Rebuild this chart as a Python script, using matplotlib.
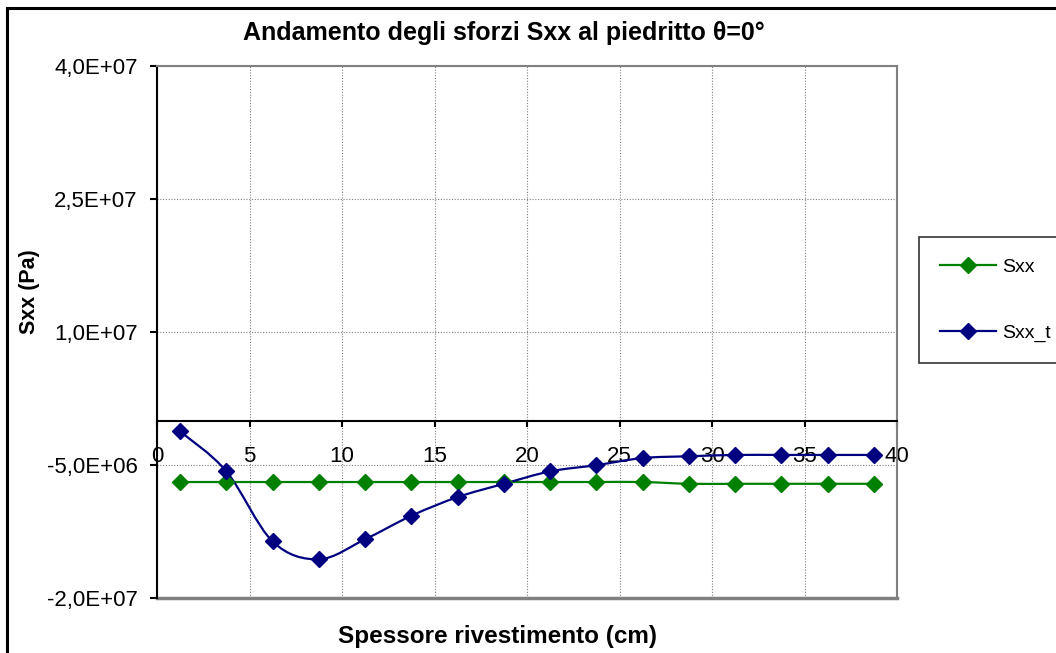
import matplotlib
matplotlib.use("Agg")
import matplotlib.pyplot as plt
from matplotlib.path import Path
from matplotlib.patches import PathPatch, Rectangle
from matplotlib.lines import Line2D
import numpy as np

plt.rcParams["font.family"] = ["Liberation Sans", "DejaVu Sans"]

# spessore (cm) e sforzi (Pa)
spessore = [1.25, 3.75, 6.25, 8.75, 11.25, 13.75, 16.25, 18.75,
            21.25, 23.75, 26.25, 28.75, 31.25, 33.75, 36.25, 38.75]
sxx = [-6.9e6, -6.9e6, -6.9e6, -6.9e6, -6.9e6, -6.9e6, -6.9e6, -6.9e6,
       -6.9e6, -6.9e6, -6.9e6, -7.1e6, -7.1e6, -7.1e6, -7.1e6, -7.1e6]
sxx_t = [-1.2e6, -5.7e6, -13.6e6, -15.6e6, -13.35e6, -10.7e6, -8.6e6, -7.1e6,
         -5.7e6, -5.0e6, -4.2e6, -4.0e6, -3.85e6, -3.85e6, -3.85e6, -3.85e6]

yticks = [-2.0e7, -5.0e6, 1.0e7, 2.5e7, 4.0e7]
xticks = [0, 5, 10, 15, 20, 25, 30, 35, 40]

GREEN = "#008000"
NAVY = "#000080"
MS = 8


def smooth_path(x, y):
    '''curva liscia tipo Excel: bezier cubiche tra punti consecutivi'''
    p = np.column_stack([x, y]).astype(float)
    n = len(p)
    verts = [p[0]]
    codes = [Path.MOVETO]
    for i in range(n - 1):
        p0 = p[i - 1] if i > 0 else p[i]
        p3 = p[i + 2] if i + 2 < n else p[i + 1]
        c1 = p[i] + (p[i + 1] - p0) / 6.0
        c2 = p[i + 1] - (p3 - p[i]) / 6.0
        verts += [c1, c2, p[i + 1]]
        codes += [Path.CURVE4] * 3
    return Path(verts, codes)


fig = plt.figure(figsize=(10.56, 6.53), dpi=100)
ax = fig.add_axes([157 / 1056, 1 - 598.3 / 653, 740 / 1056, 532.6 / 653])

for yy, col in [(sxx, GREEN), (sxx_t, NAVY)]:
    ax.add_patch(PathPatch(smooth_path(spessore, yy), fill=False,
                           edgecolor=col, lw=1.6, zorder=3))
    ax.plot(spessore, yy, ls="none", marker="D", ms=MS,
            color=col, mec=col, zorder=4)

ax.set_xlim(0, 40)
ax.set_ylim(-2.0e7, 4.0e7)
ax.set_yticks(yticks)
ax.set_yticklabels([f"{v:.1E}".replace(".", ",") for v in yticks])
ax.set_xticks(xticks)
ax.set_xticklabels([str(v) for v in xticks])

ax.grid(True, color="#808080", ls=(0, (1, 1.5)), lw=0.8)
ax.set_axisbelow(True)

# asse x sullo zero, cornice grigia intorno all'area del grafico
ax.spines["bottom"].set_position(("data", 0))
ax.spines["bottom"].set_linewidth(1.5)
ax.spines["left"].set_linewidth(1.5)
ax.spines["top"].set_color("#808080")
ax.spines["right"].set_color("#808080")
ax.spines["top"].set_linewidth(1.5)
ax.spines["right"].set_linewidth(1.5)
ax.axhline(-2.0e7, color="#808080", lw=2.5, zorder=1, clip_on=False)

ax.tick_params(axis="y", direction="out", length=5, width=1.5, pad=9, labelsize=16)
ax.tick_params(axis="x", direction="out", length=4, width=1.5, pad=14, labelsize=16)

fig.text(504 / 1056, 1 - 33 / 653, "Andamento degli sforzi Sxx al piedritto θ=0°",
         ha="center", va="center", fontsize=18, fontweight="bold")
fig.text(30 / 1056, 1 - 292 / 653, "Sxx (Pa)", ha="center", va="center",
         rotation=90, fontsize=15.5, fontweight="bold")
fig.text(497 / 1056, 1 - 636 / 653, "Spessore rivestimento (cm)", ha="center",
         va="center", fontsize=17.5, fontweight="bold")

handles = [Line2D([], [], color=GREEN, lw=1.6, marker="D", ms=MS, mec=GREEN),
           Line2D([], [], color=NAVY, lw=1.6, marker="D", ms=MS, mec=NAVY)]
leg = fig.legend(handles, ["Sxx", "Sxx_t"], loc="upper left",
                 bbox_to_anchor=(919 / 1056, 1 - 237 / 653),
                 fontsize=14, frameon=True, fancybox=False, edgecolor="black",
                 labelspacing=2.47, handlelength=2.85, handletextpad=0.3,
                 borderpad=1.1, borderaxespad=0)
leg.get_frame().set_linewidth(1.2)

# bordo esterno dell'area del grafico
fig.patches.append(Rectangle((7 / 1056, -0.1), 1.2, 1 - 8 / 653 + 0.1,
                             transform=fig.transFigure, fill=False,
                             edgecolor="black", lw=2.2))

fig.savefig("out.png", dpi=100)
